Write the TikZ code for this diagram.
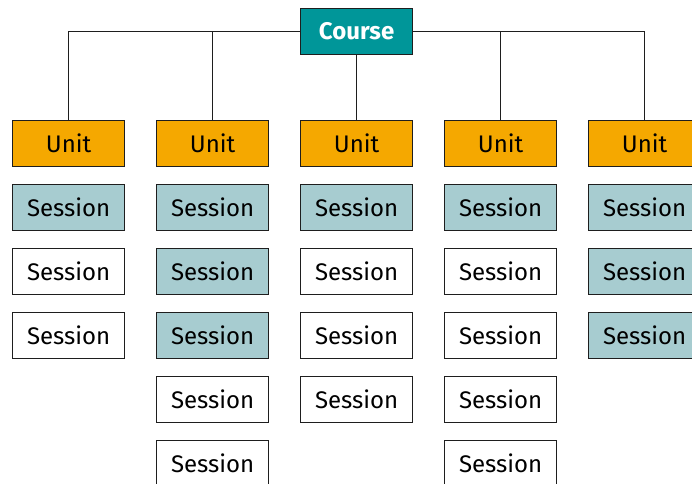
\documentclass[tikz,border=0pt]{standalone}
\usepackage{fontspec}
\setmainfont{Fira Sans}
\definecolor{courseC}{RGB}{0,150,153}
\definecolor{unitC}{RGB}{245,168,0}
\definecolor{sessC}{RGB}{167,204,208}
\definecolor{lineC}{RGB}{30,30,30}
\begin{document}
\begin{tikzpicture}[x=1pt,y=-1pt,
  box/.style={draw=lineC,line width=1.2pt,minimum width=112pt,minimum height=46pt,inner sep=0pt,font=\fontsize{24}{28}\selectfont,anchor=north west},
  coursebox/.style={box,fill=courseC,text=white,font=\fontsize{24}{28}\selectfont\bfseries},
  unitbox/.style={box,fill=unitC},
  sblue/.style={box,fill=sessC},
  swhite/.style={box,fill=white},
  conn/.style={draw=lineC,line width=1.2pt}]
\useasboundingbox (0,0) rectangle (692,483);
\node[coursebox] (course) at (300,8) {Course};
\foreach \i/\x in {1/12,2/156,3/300,4/444,5/588}{
  \node[unitbox] (u\i) at (\x,120) {Unit};
}
% column 1
\node[sblue]  (s11) at (12,184) {Session};
\node[swhite] (s12) at (12,248) {Session};
\node[swhite] (s13) at (12,312) {Session};
% column 2
\node[sblue]  (s21) at (156,184) {Session};
\node[sblue]  (s22) at (156,248) {Session};
\node[sblue]  (s23) at (156,312) {Session};
\node[swhite] (s24) at (156,376) {Session};
\node[swhite] (s25) at (156,440) {Session};
% column 3
\node[sblue]  (s31) at (300,184) {Session};
\node[swhite] (s32) at (300,248) {Session};
\node[swhite] (s33) at (300,312) {Session};
\node[swhite] (s34) at (300,376) {Session};
% column 4
\node[sblue]  (s41) at (444,184) {Session};
\node[swhite] (s42) at (444,248) {Session};
\node[swhite] (s43) at (444,312) {Session};
\node[swhite] (s44) at (444,376) {Session};
\node[swhite] (s45) at (444,440) {Session};
% column 5
\node[sblue]  (s51) at (588,184) {Session};
\node[sblue]  (s52) at (588,248) {Session};
\node[sblue]  (s53) at (588,312) {Session};
% connectors
\draw[conn] (course.west) -| (u1.north);
\draw[conn] (course.west) -| (u2.north);
\draw[conn] (course.south) -- (u3.north);
\draw[conn] (course.east) -| (u4.north);
\draw[conn] (course.east) -| (u5.north);
\end{tikzpicture}
\end{document}
